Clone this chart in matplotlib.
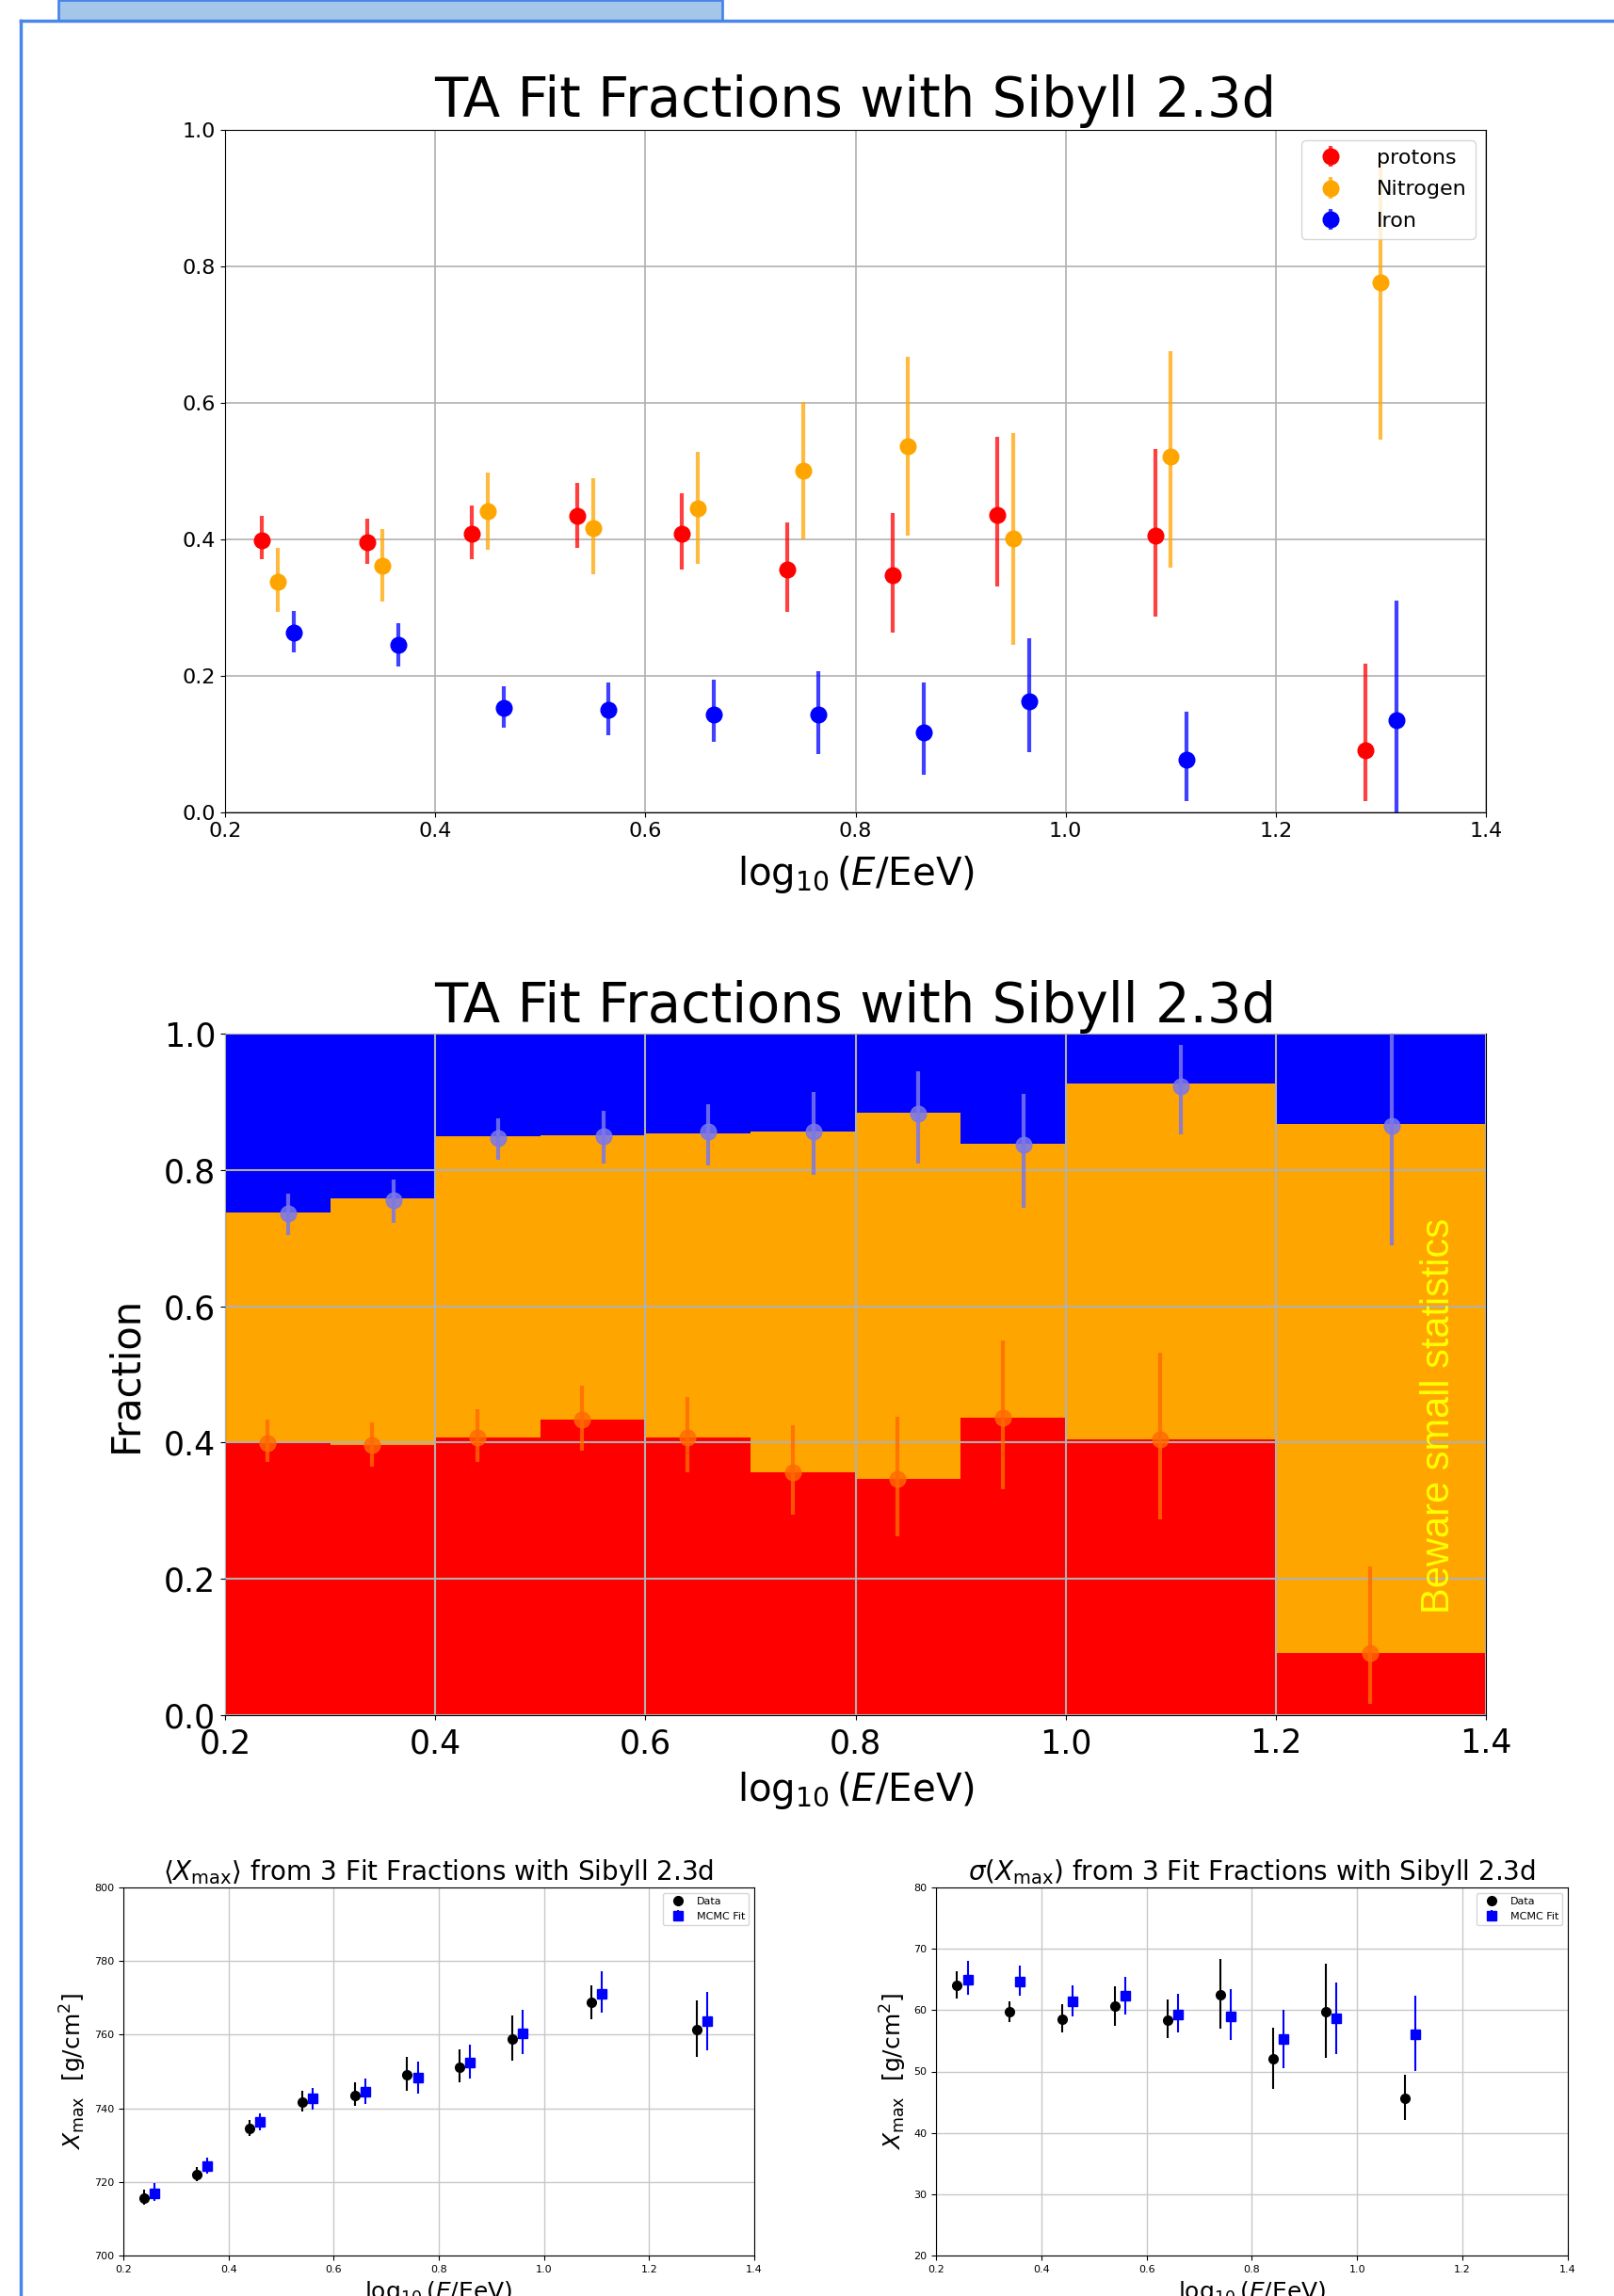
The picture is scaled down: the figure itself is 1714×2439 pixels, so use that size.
import numpy as np
import matplotlib
matplotlib.use("Agg")
import matplotlib.pyplot as plt
from matplotlib.patches import Rectangle
from matplotlib.lines import Line2D

W, H = 1715, 2439

# ---- fit fractions per energy bin ----
bin_centers = [0.25, 0.35, 0.45, 0.55, 0.65, 0.75, 0.85, 0.95, 1.1, 1.3]
bin_edges = [0.2, 0.3, 0.4, 0.5, 0.6, 0.7, 0.8, 0.9, 1.0, 1.2, 1.4]

p_val = [0.399, 0.396, 0.408, 0.434, 0.408, 0.356, 0.347, 0.436, 0.405, 0.091]
p_hi = [0.434, 0.430, 0.449, 0.483, 0.467, 0.425, 0.438, 0.550, 0.532, 0.218]
p_lo = [0.371, 0.364, 0.371, 0.388, 0.356, 0.294, 0.263, 0.331, 0.287, 0.017]

n_val = [0.338, 0.362, 0.442, 0.417, 0.445, 0.500, 0.537, 0.402, 0.522, 0.776]
n_hi = [0.388, 0.415, 0.498, 0.489, 0.528, 0.602, 0.667, 0.556, 0.676, 0.955]
n_lo = [0.294, 0.309, 0.385, 0.349, 0.364, 0.400, 0.406, 0.245, 0.359, 0.546]

fe_val = [0.264, 0.245, 0.153, 0.150, 0.144, 0.144, 0.117, 0.163, 0.077, 0.135]
fe_hi = [0.295, 0.277, 0.185, 0.191, 0.194, 0.207, 0.191, 0.255, 0.148, 0.311]
fe_lo = [0.235, 0.214, 0.124, 0.113, 0.103, 0.085, 0.055, 0.088, 0.017, -0.02]

# ---- <Xmax> ----
xm_data = [715.7, 722.1, 734.4, 741.7, 743.6, 749.1, 751.2, 758.9, 768.7, 761.4]
xm_data_hi = [717.9, 724.1, 736.9, 744.7, 747.1, 753.9, 755.9, 765.1, 773.4, 769.2]
xm_data_lo = [713.8, 720.2, 732.5, 739.1, 740.7, 744.7, 747.1, 752.9, 764.3, 753.9]
xm_fit = [716.9, 724.3, 736.2, 742.7, 744.5, 748.3, 752.5, 760.4, 771.2, 763.6]
xm_fit_hi = [719.6, 726.6, 738.7, 745.6, 748.0, 752.6, 757.2, 766.7, 777.2, 771.7]
xm_fit_lo = [714.9, 722.3, 734.0, 739.7, 741.3, 744.1, 748.1, 754.8, 765.9, 755.7]

# ---- sigma(Xmax) ----
sx_data = [64.0, 59.7, 58.5, 60.7, 58.4, 62.5, 52.1, 59.7, 45.6]
sx_data_hi = [66.3, 61.5, 61.0, 63.9, 61.7, 68.4, 57.1, 67.5, 49.4]
sx_data_lo = [61.9, 58.0, 56.3, 57.5, 55.5, 57.0, 47.1, 52.2, 42.1]
sx_fit = [65.0, 64.7, 61.5, 62.3, 59.3, 59.0, 55.3, 58.7, 56.1]
sx_fit_hi = [68.0, 67.2, 64.1, 65.4, 62.6, 63.4, 60.1, 64.5, 62.3]
sx_fit_lo = [62.5, 62.4, 59.0, 59.3, 56.4, 55.1, 50.6, 52.9, 50.1]

TITLE = "TA Fit Fractions with Sibyll 2.3d"
XLAB = r"$\log_{10}(E/\mathrm{EeV})$"


def yerr(v, hi, lo):
    v = np.asarray(v); return [v - np.asarray(lo), np.asarray(hi) - v]


def fig_axes(x0, y0, x1, y1):
    # pixel box (top-left origin) -> figure fraction
    return fig.add_axes([x0 / W, 1 - y1 / H, (x1 - x0) / W, (y1 - y0) / H])


fig = plt.figure(figsize=(W / 100, H / 100), dpi=100)

# ---- slide frame ----
fig.add_artist(Rectangle((62 / W, 1 - 22 / H), (767 - 62) / W, 22 / H,
                         transform=fig.transFigure, fc="#a4c6e8", ec="#4a86e8", lw=2))
fig.add_artist(Line2D([22 / W, 1], [1 - 22 / H] * 2, transform=fig.transFigure,
                      color="#4a86e8", lw=2.5))
fig.add_artist(Line2D([22 / W] * 2, [0, 1 - 22 / H], transform=fig.transFigure,
                      color="#4a86e8", lw=2.5))

bc = np.array(bin_centers)

# ============ top: fractions with error bars ============
ax = fig_axes(239, 138, 1578, 863)
for off, v, hi, lo, c, lab in [(-0.015, p_val, p_hi, p_lo, "red", "protons"),
                               (0.0, n_val, n_hi, n_lo, "orange", "Nitrogen"),
                               (0.015, fe_val, fe_hi, fe_lo, "blue", "Iron")]:
    eb = ax.errorbar(bc + off, v, yerr=yerr(v, hi, lo), fmt="o", color=c,
                     ms=12, elinewidth=3, label=lab)
    eb[2][0].set_alpha(0.75)
ax.set_xlim(0.2, 1.4); ax.set_ylim(0, 1)
ax.grid(True, color="#b0b0b0", lw=1.2)
ax.tick_params(labelsize=16)
ax.set_title(TITLE, fontsize=41.5, pad=10)
ax.set_xlabel(XLAB, fontsize=29, labelpad=10)
ax.legend(loc="upper right", fontsize=16, labelspacing=0.6, handletextpad=1.2)

# ============ middle: stacked fractions ============
ax = fig_axes(239, 1098, 1578, 1822)
pv = np.array(p_val); nv = np.array(n_val); fv = np.array(fe_val)
ax.stairs(pv, bin_edges, baseline=0, fill=True, color="red", zorder=1)
ax.stairs(pv + nv, bin_edges, baseline=pv, fill=True, color="orange", zorder=1)
ax.stairs(np.ones_like(pv), bin_edges, baseline=pv + nv, fill=True, color="blue", zorder=1)
ax.grid(True, color="#b0b0b0", lw=1.5, zorder=2)
ax.set_axisbelow(False)
ax.errorbar(bc - 0.01, pv, yerr=yerr(p_val, p_hi, p_lo), fmt="o", color="#ff6a00",
            ms=12, elinewidth=3, alpha=0.8, zorder=3)
ax.errorbar(bc + 0.01, 1 - fv, yerr=yerr(fe_val, fe_hi, fe_lo)[::-1], fmt="o",
            color="#7a78ea", ms=12, elinewidth=3, alpha=0.85, zorder=3)
ax.text(1.355, 0.44, "Beware small statistics", rotation=90, color="yellow",
        fontsize=30, family="Liberation Sans", ha="center", va="center", zorder=4)
ax.set_xlim(0.2, 1.4); ax.set_ylim(0, 1)
ax.tick_params(labelsize=25)
ax.tick_params(axis="x", pad=6)
ax.set_title(TITLE, fontsize=41.5, pad=9)
ax.set_xlabel(XLAB, fontsize=29, labelpad=8)
ax.set_ylabel("Fraction", fontsize=30, labelpad=14)

# ============ bottom: Xmax moments ============
YLAB = r"$X_{\rm max}\ \ [\rm g/cm^2]$"
for box, d, dh, dl, f, fh, fl, ylim, ttl in [
        ((131, 2005, 801, 2396), xm_data, xm_data_hi, xm_data_lo,
         xm_fit, xm_fit_hi, xm_fit_lo, (700, 800),
         r"$\langle X_{\rm max}\rangle$ from 3 Fit Fractions with Sibyll 2.3d"),
        ((994, 2005, 1665, 2396), sx_data, sx_data_hi, sx_data_lo,
         sx_fit, sx_fit_hi, sx_fit_lo, (20, 80),
         r"$\sigma(X_{\rm max})$ from 3 Fit Fractions with Sibyll 2.3d")]:
    ax = fig_axes(*box)
    n = len(d)
    ax.errorbar(bc[:n] - 0.01, d, yerr=yerr(d, dh, dl), fmt="o", color="black",
                ms=7, elinewidth=1.5, label="Data")
    ax.errorbar(bc[:n] + 0.01, f, yerr=yerr(f, fh, fl), fmt="s", color="blue",
                ms=7, elinewidth=1.5, label="MCMC Fit")
    ax.set_xlim(0.2, 1.4); ax.set_ylim(*ylim)
    ax.grid(True, color="#c8c8c8", lw=1)
    ax.tick_params(labelsize=8)
    ax.set_title(ttl, fontsize=20)
    ax.set_xlabel(XLAB, fontsize=18)
    ax.set_ylabel(YLAB, fontsize=18)
    ax.legend(loc="upper right", fontsize=8)

fig.savefig("out.png", dpi=100)
